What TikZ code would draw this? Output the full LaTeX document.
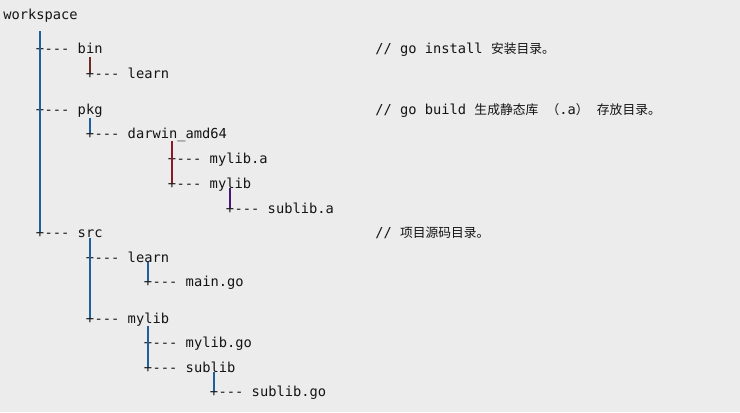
\documentclass[tikz,border=0pt]{standalone}
\usepackage{fontspec}
\usetikzlibrary{positioning}
\newfontfamily\monofont{DejaVu Sans Mono}[Ligatures=TeXOff]
\newfontfamily\cjk{Noto Sans CJK SC}[Scale=0.93]
\definecolor{fondo}{RGB}{236,236,236}
\definecolor{texto}{RGB}{20,20,20}
\definecolor{azul}{RGB}{30,95,160}
\definecolor{rojo}{RGB}{140,25,35}
\definecolor{morado}{RGB}{70,25,120}
\definecolor{marron}{RGB}{110,45,35}
\tikzset{
  txt/.style={font=\monofont\fontsize{10.3pt}{12pt}\selectfont, text=texto,
    inner sep=0pt, text height=9pt, text depth=1pt},
  tee/.style={txt},
  entry/.style={txt, right=0pt of #1},
  bar/.style={line width=0.9pt, draw=#1},
}
\begin{document}
\begin{tikzpicture}[x=0.75pt,y=-0.75pt]
        % Fondo
        \fill[fondo] (0,0) rectangle (740,412);

        % Raiz
        \node[txt, anchor=west] (ws) at (3,14) {workspace};

        % bin
        \node[tee] (binp) at (40,48) {+};
        \node[entry=binp] (bin) {--- bin};
        \node[tee] (blp) at (90,73) {+};
        \node[entry=blp] (blearn) {--- learn};

        % pkg
        \node[tee] (pkgp) at (40,109) {+};
        \node[entry=pkgp] (pkg) {--- pkg};
        \node[tee] (dap) at (90,133) {+};
        \node[entry=dap] (darwin) {--- darwin\_amd64};
        \node[tee] (map) at (172,158) {+};
        \node[entry=map] (mylibA) {--- mylib.a};
        \node[tee] (pmp) at (172,183) {+};
        \node[entry=pmp] (pmylib) {--- mylib};
        \node[tee] (sap) at (230,208) {+};
        \node[entry=sap] (sublibA) {--- sublib.a};

        % src
        \node[tee] (srcp) at (40,232) {+};
        \node[entry=srcp] (src) {--- src};
        \node[tee] (slp) at (90,257) {+};
        \node[entry=slp] (slearn) {--- learn};
        \node[tee] (mgp) at (148,281) {+};
        \node[entry=mgp] (maingo) {--- main.go};
        \node[tee] (smp) at (90,318) {+};
        \node[entry=smp] (smylib) {--- mylib};
        \node[tee] (mgop) at (148,342) {+};
        \node[entry=mgop] (mylibgo) {--- mylib.go};
        \node[tee] (sbp) at (148,367) {+};
        \node[entry=sbp] (sublib) {--- sublib};
        \node[tee] (sgp) at (214,391) {+};
        \node[entry=sgp] (sublibgo) {--- sublib.go};

        % Comentarios
        \node[txt, anchor=west] (cbin) at (375,48) {// go install {\cjk 安装目录。}};
        \node[txt, anchor=west] (cpkg) at (375,109) {// go build {\cjk 生成静态库} {\cjk （}.a{\cjk ）} {\cjk 存放目录。}};
        \node[txt, anchor=west] (csrc) at (375,232) {// {\cjk 项目源码目录。}};

        % Barras
        \draw[bar=azul] (binp |- ws) ++(0,17) -- (srcp.center);
        \draw[bar=marron] (blp |- bin) ++(0,9) -- (blp.center);
        \draw[bar=azul] (dap |- pkg) ++(0,9) -- (dap.center);
        \draw[bar=rojo] (map |- darwin) ++(0,8) -- (pmp.center);
        \draw[bar=morado] (sap |- pmylib) ++(0,5) -- (sap.center);
        \draw[bar=azul] (slp |- src) ++(0,6) -- (smp.center);
        \draw[bar=azul] (mgp |- slearn) ++(0,5) -- (mgp.center);
        \draw[bar=azul] (mgop |- smylib) ++(0,8) -- (sbp.center);
        \draw[bar=azul] (sgp |- sublib) ++(0,5) -- (sgp.center);
    \end{tikzpicture}
\end{document}
